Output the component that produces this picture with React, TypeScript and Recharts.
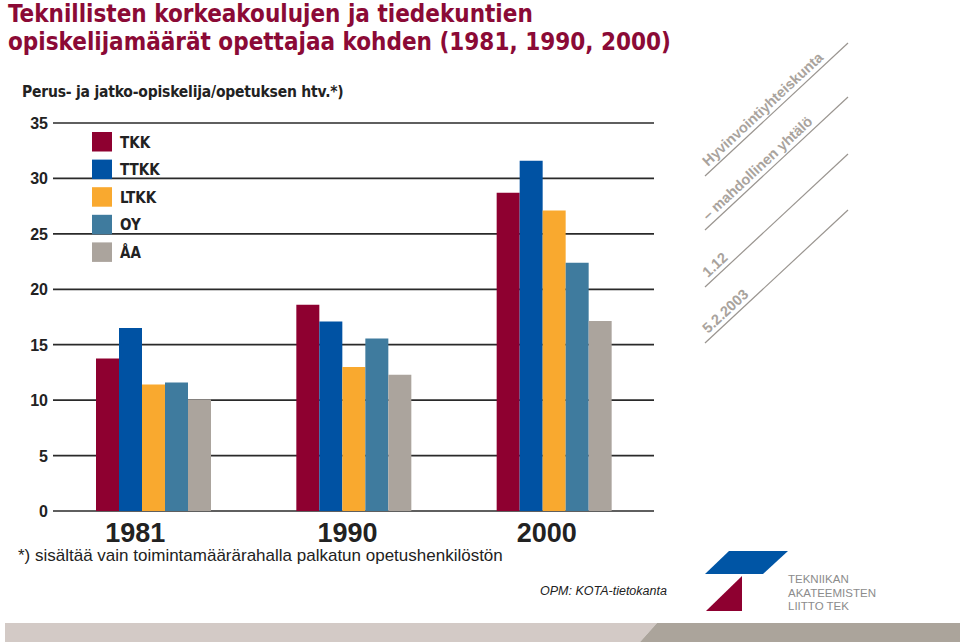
import { BarChart, Bar, XAxis, YAxis, CartesianGrid } from "recharts";

// Perus- ja jatko-opiskelija / opetuksen htv.
const years = ["1981", "1990", "2000"];
const tkk = [13.75, 18.6, 28.7];
const ttkk = [16.5, 17.1, 31.6];
const ltkk = [11.4, 13.0, 27.1];
const oy = [11.6, 15.55, 22.4];
const aa = [10.05, 12.3, 17.15];
const yTicks = [0, 5, 10, 15, 20, 25, 30, 35];

const seriesNames = ["TKK", "TTKK", "LTKK", "OY", "ÅA"];
const seriesValues = [tkk, ttkk, ltkk, oy, aa];
const seriesColors = ["#8e0030", "#0052a3", "#f9a92f", "#3f7b9e", "#aba49d"];

const data = years.map((year, i) => {
  const row: Record<string, string | number> = { year };
  seriesNames.forEach((name, s) => {
    row[name] = seriesValues[s][i];
  });
  return row;
});

const NARROW = '"Liberation Sans Narrow", "DejaVu Sans Condensed", "Liberation Sans", sans-serif';
const SANS = '"Liberation Sans", Arial, sans-serif';

// year labels sit a little left of the bar groups in the original
const xLabelShift = [-18, -6, -7];

const YTick = (props: any) => {
  const { y, payload } = props;
  return (
    <text x={48} y={y} dy={6} textAnchor="end" fontFamily={SANS} fontWeight="bold" fontSize={16} fill="#222">
      {payload.value}
    </text>
  );
};

const XTick = (props: any) => {
  const { x, y, payload, index } = props;
  return (
    <text
      x={x + (xLabelShift[index] ?? 0)}
      y={y + 23}
      textAnchor="middle"
      fontFamily={SANS}
      fontWeight="bold"
      fontSize={27}
      fill="#222"
    >
      {payload.value}
    </text>
  );
};

const sideLines = [176, 230, 287, 343];
const sideTexts = ["Hyvinvointiyhteiskunta", "– mahdollinen yhtälö", "1.12", "5.2.2003"];

export default function App() {
  return (
    <div style={{ position: "relative", width: 960, height: 642, background: "#fff", overflow: "hidden" }}>
      <style>{"body{margin:0}"}</style>
      <BarChart
        width={960}
        height={642}
        data={data}
        margin={{ top: 123, right: 306, bottom: 91, left: 0 }}
        barGap={0}
        barSize={23}
      >
        <CartesianGrid horizontal vertical={false} stroke="#2a2a2a" strokeWidth={1.7} />
        <XAxis dataKey="year" axisLine={false} tickLine={false} height={40} tick={<XTick />} />
        <YAxis
          domain={[0, 35]}
          ticks={yTicks}
          width={53}
          axisLine={false}
          tickLine={false}
          tick={<YTick />}
        />
        {seriesNames.map((name, i) => (
          <Bar key={name} dataKey={name} fill={seriesColors[i]} isAnimationActive={false} />
        ))}
      </BarChart>

      <svg
        width={960}
        height={642}
        style={{ position: "absolute", left: 0, top: 0, pointerEvents: "none" }}
      >
        <text x={8} y={22} fontFamily={NARROW} fontWeight="bold" fontSize={24} fill="#8b0a36">
          Teknillisten korkeakoulujen ja tiedekuntien
        </text>
        <text x={8} y={50} fontFamily={NARROW} fontWeight="bold" fontSize={24} fill="#8b0a36">
          opiskelijamäärät opettajaa kohden (1981, 1990, 2000)
        </text>
        <text x={22} y={97} fontFamily={NARROW} fontWeight="bold" fontSize={15.5} letterSpacing={-0.2} fill="#222">
          Perus- ja jatko-opiskelija/opetuksen htv.*)
        </text>

        {/* legend */}
        {seriesNames.map((name, i) => (
          <g key={name}>
            <rect x={92} y={132 + i * 27.6} width={20} height={19.5} fill={seriesColors[i]} />
            <text x={120} y={132 + i * 27.6 + 15.5} fontFamily={NARROW} fontWeight="bold" fontSize={15} fill="#222">
              {name}
            </text>
          </g>
        ))}

        {sideLines.map((y0, i) => (
          <g key={i}>
            <line x1={705} y1={y0} x2={848} y2={y0 - 133} stroke="#9a9590" strokeWidth={1.2} />
            <text
              x={708}
              y={y0 - 9}
              transform={`rotate(-43 708 ${y0 - 9})`}
              fontFamily={SANS}
              fontWeight="bold"
              fontSize={14.5}
              fill="#a9a39d"
            >
              {sideTexts[i]}
            </text>
          </g>
        ))}

        <text x={18} y={561} fontFamily={SANS} fontSize={17} fill="#222">
          *) sisältää vain toimintamäärärahalla palkatun opetushenkilöstön
        </text>
        <text x={540} y={595} fontFamily={SANS} fontStyle="italic" fontSize={12.5} fill="#222">
          OPM: KOTA-tietokanta
        </text>

        <polygon points="729,551 788,551 763,574 705,574" fill="#0055a5" />
        <polygon points="742,576 742,611 706,611" fill="#8e0030" />
        <text fontFamily={SANS} fontSize={11.5} fill="#8c8c8c">
          <tspan x={788} y={583}>TEKNIIKAN</tspan>
          <tspan x={788} y={596.5}>AKATEEMISTEN</tspan>
          <tspan x={788} y={610}>LIITTO TEK</tspan>
        </text>

        <polygon points="5,623 657,623 640,642 5,642" fill="#d3cac6" />
        <polygon points="657,623 960,623 960,642 640,642" fill="#aba49b" />
      </svg>
    </div>
  );
}
